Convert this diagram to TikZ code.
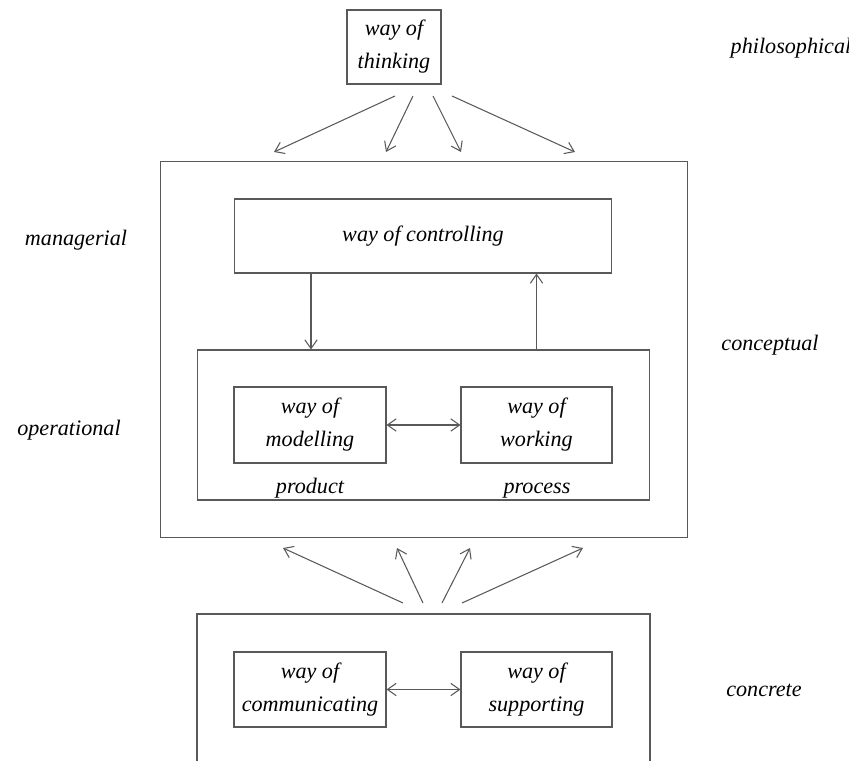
\documentclass[tikz,border=0pt]{standalone}
\usepackage{fontspec}
\setmainfont{Liberation Serif}
\usetikzlibrary{arrows.meta}
\definecolor{linegray}{gray}{0.35}
\newcommand{\wayfont}{\fontsize{12.6}{18.8}\selectfont\itshape}

\begin{document}
\begin{tikzpicture}[x=0.02cm,y=-0.02cm,>={Straight Barb[length=5pt,width=7pt]},
	box/.style={draw=linegray,line width=0.6pt,inner sep=0pt,align=center,font=\wayfont},
	lbl/.style={font=\wayfont,inner sep=0pt},
	link/.style={draw=linegray,line width=0.6pt}]
	\useasboundingbox (0,0) rectangle (849,761);
	% boxes
	\node (thinking) [box,minimum width=1.88cm,minimum height=1.48cm] at (394,47) {way of\\thinking};
	\node (concept) [box,minimum width=10.56cm,minimum height=7.54cm] at (424,349.5) {};
	\node (controlling) [box,minimum width=7.56cm,minimum height=1.48cm] at (423,236) {way of controlling};
	\node (oper) [box,minimum width=9.06cm,minimum height=3.0cm] at (423.5,425) {};
	\node (modelling) [box,minimum width=3.04cm,minimum height=1.52cm] at (310,425) {way of\\modelling};
	\node (working) [box,minimum width=3.02cm,minimum height=1.52cm] at (536.5,425) {way of\\working};
	\node (communicating) [box,minimum width=3.04cm,minimum height=1.5cm] at (310,689.5) {way of\\communicating};
	\node (supporting) [box,minimum width=3.02cm,minimum height=1.5cm] at (536.5,689.5) {way of\\supporting};
	\draw[link] (197,761) -- (197,614) -- (650,614) -- (650,761);
	% labels
	\node (philo) [lbl] at (791,48) {philosophical};
	\node (manag) [lbl] at (76,240) {managerial};
	\node (concl) [lbl] at (770,345) {conceptual};
	\node (operl) [lbl] at (69,430) {operational};
	\node (concr) [lbl] at (764,690) {concrete};
	\node (product) [lbl,anchor=base] at (310,493) {product};
	\node (process) [lbl,anchor=base] at (537,493) {process};
	% arrows from thinking
	\coordinate (ta) at (395,96);
	\coordinate (tb) at (413,96);
	\coordinate (tc) at (433,96);
	\coordinate (td) at (452,96);
	\coordinate (ea) at (274,152);
	\coordinate (eb) at (386,152);
	\coordinate (ec) at (461,152);
	\coordinate (ed) at (575,152);
	\draw[link,->] (ta) -- (ea);
	\draw[link,->] (tb) -- (eb);
	\draw[link,->] (tc) -- (ec);
	\draw[link,->] (td) -- (ed);
	% arrows to conceptual
	\coordinate (ba) at (403,603);
	\coordinate (bb) at (423,603);
	\coordinate (bc) at (442,603);
	\coordinate (bd) at (462,603);
	\coordinate (ua) at (283,548);
	\coordinate (ub) at (397,548);
	\coordinate (uc) at (470,548);
	\coordinate (ud) at (583,548);
	\draw[link,->] (ba) -- (ua);
	\draw[link,->] (bb) -- (ub);
	\draw[link,->] (bc) -- (uc);
	\draw[link,->] (bd) -- (ud);
	% inner links
	\draw[link,->] (controlling.south -| 311,0) -- (oper.north -| 311,0);
	\draw[link,->] (oper.north -| working) -- (controlling.south -| working);
	\draw[link,<->] (modelling) -- (working);
	\draw[link,<->] (communicating) -- (supporting);
\end{tikzpicture}
\end{document}
